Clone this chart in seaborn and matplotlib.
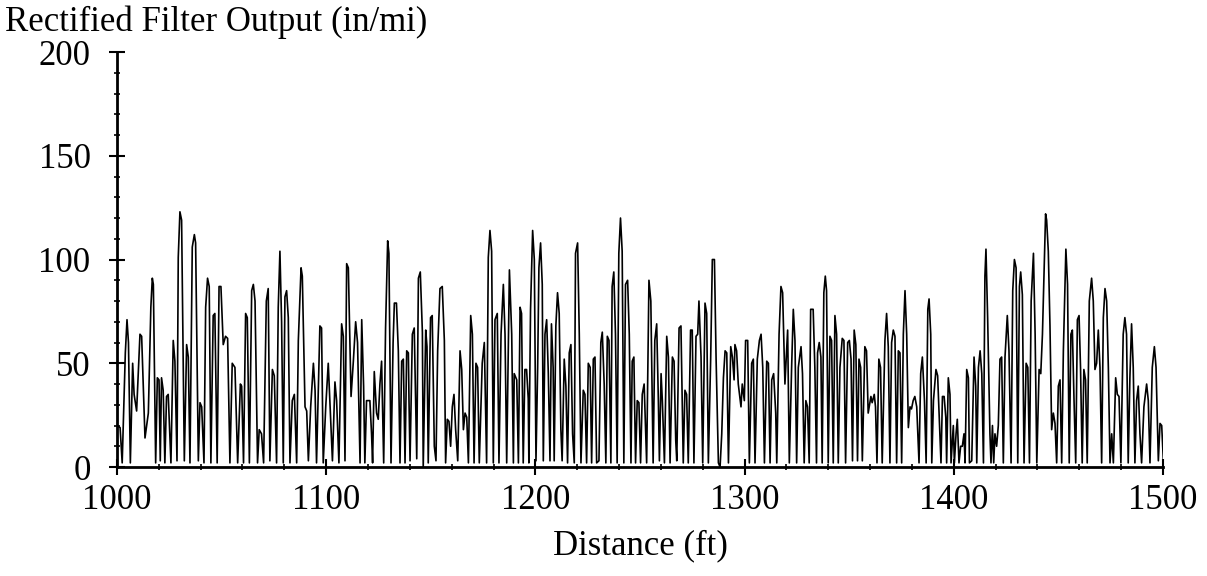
import numpy as np
import pandas as pd
import matplotlib.pyplot as plt
import matplotlib.ticker as mticker
import seaborn as sns

# vertices of the rectified trace (ft, in/mi)
dist = [
    1000.0, 1001.5, 1002.5, 1004.0, 1004.8, 1005.5, 1006.4, 1007.5, 1008.2,
    1009.4, 1011.0, 1011.8, 1013.4, 1015.0, 1016.2, 1016.9, 1017.4, 1018.5, 1019.3,
    1020.1, 1020.7, 1021.3, 1022.1, 1022.9, 1023.7, 1024.5, 1025.8, 1026.9, 1027.7,
    1028.7, 1029.3, 1030.1, 1030.9, 1032.2, 1033.3, 1034.1, 1034.9, 1036.0, 1037.0,
    1037.6, 1038.9, 1039.7, 1040.5, 1041.6, 1042.4, 1043.3, 1044.1, 1044.9, 1046.0,
    1046.8, 1047.9, 1048.8, 1049.7, 1050.8, 1051.9, 1052.9, 1054.0, 1055.1, 1056.4,
    1057.7, 1059.0, 1059.6, 1060.5, 1061.5, 1062.3, 1063.3, 1064.4, 1065.2, 1066.0,
    1067.2, 1068.0, 1069.1, 1070.1,
    1071.4, 1072.3, 1073.1, 1074.3, 1075.2, 1076.3, 1077.1, 1077.9, 1078.7, 1079.5,
    1080.3, 1081.1, 1081.9, 1082.7, 1083.8, 1084.8, 1085.9, 1086.7, 1088.0, 1088.6,
    1089.9, 1090.7, 1091.5, 1092.6, 1093.9, 1094.7, 1095.4, 1097.0, 1097.8, 1098.6,
    1099.8, 1101.0, 1102.1, 1103.0, 1104.2, 1105.0, 1106.1, 1107.4, 1108.2, 1109.0,
    1109.8, 1110.6, 1111.9, 1113.0, 1114.1, 1115.0, 1116.2, 1117.0, 1117.9, 1118.5,
    1119.3, 1120.9, 1121.7, 1122.2, 1123.0, 1124.1, 1124.9, 1125.7, 1126.5, 1127.5,
    1128.4, 1129.4, 1130.0, 1131.0, 1132.0, 1132.6,
    1133.6, 1134.5, 1135.3, 1136.1, 1136.9, 1137.7, 1138.5, 1139.3, 1139.6, 1140.1,
    1141.2, 1142.1, 1143.3, 1144.1, 1145.0, 1146.0, 1146.4, 1147.6, 1148.2, 1148.8,
    1149.9, 1150.7, 1151.7, 1152.5, 1153.3, 1154.4, 1155.5, 1156.5, 1157.1, 1157.9,
    1158.7, 1159.5, 1160.3, 1161.1, 1161.9, 1162.9, 1164.0, 1164.8, 1165.6, 1166.4,
    1167.2, 1168.0, 1169.1, 1169.9, 1170.7, 1171.6, 1172.4, 1173.2, 1174.6, 1175.6,
    1176.7, 1177.5, 1178.3, 1179.1, 1179.9, 1180.7, 1181.8, 1182.6, 1183.6, 1184.7,
    1185.5, 1186.3, 1187.6, 1188.7, 1189.5, 1189.9, 1191.1, 1191.9, 1192.7, 1193.4,
    1194.2,
    1195.0, 1195.8, 1196.6, 1196.9, 1197.7, 1198.7, 1199.5, 1200.3, 1201.1, 1201.7,
    1202.5, 1203.3, 1203.8, 1204.6, 1205.4, 1206.2, 1207.0, 1207.7, 1208.5, 1209.0,
    1209.8, 1210.6, 1211.4, 1212.2, 1212.8, 1213.8, 1214.6, 1215.4, 1216.2, 1217.0,
    1217.8, 1218.6, 1219.2, 1220.2, 1221.0, 1221.8, 1222.9, 1223.7, 1224.5, 1225.3,
    1226.2, 1226.9, 1227.7, 1228.5, 1229.3, 1230.4, 1231.3, 1232.0, 1232.9, 1233.7,
    1234.4, 1235.2, 1236.1, 1236.7, 1237.5, 1238.3, 1239.1, 1239.9, 1240.7, 1241.5,
    1242.3, 1243.1, 1244.1, 1244.9, 1245.7, 1246.3, 1247.1, 1247.9, 1248.7, 1249.5,
    1250.3, 1251.1, 1252.0, 1253.2, 1254.3, 1255.2, 1256.3, 1257.1,
    1258.0, 1258.8, 1259.3, 1260.1, 1260.7, 1261.7, 1262.8, 1263.6, 1264.4, 1265.5,
    1266.3, 1267.1, 1267.6, 1268.7, 1269.6, 1270.7, 1271.5, 1272.3, 1273.1, 1274.2,
    1275.0, 1275.8, 1276.8, 1277.6, 1278.2, 1279.2, 1280.0, 1281.1, 1281.9, 1282.7,
    1283.8, 1284.6, 1285.6, 1286.4, 1287.5, 1288.3, 1289.1, 1289.9, 1290.7, 1291.5,
    1292.3, 1293.4, 1294.2, 1295.0, 1295.4, 1296.2, 1297.0, 1298.3, 1298.9, 1299.9,
    1300.5, 1301.5, 1302.3, 1303.4, 1304.2, 1305.0, 1306.1, 1307.1, 1307.9, 1308.7,
    1309.5, 1310.6, 1311.4, 1312.2, 1313.0, 1313.9, 1314.9, 1315.4, 1316.5, 1317.4,
    1318.2, 1319.3,
    1320.6, 1321.4, 1322.5, 1323.3, 1324.1, 1324.9, 1325.7, 1327.0, 1327.7, 1328.5,
    1329.3, 1330.1, 1330.9, 1331.6, 1332.8, 1333.6, 1334.4, 1334.9, 1335.7, 1336.5,
    1337.1, 1337.9, 1338.6, 1339.2, 1340.0, 1340.8, 1341.6, 1342.4, 1343.2, 1344.0,
    1344.8, 1345.6, 1346.7, 1347.5, 1348.3, 1349.3, 1350.1, 1350.9, 1351.6, 1352.4,
    1353.2, 1354.0, 1354.7, 1355.5, 1356.3, 1357.5, 1358.3, 1359.1, 1360.4, 1361.0,
    1362.0, 1362.6, 1363.3, 1364.2, 1365.0, 1365.8, 1367.1, 1367.9, 1368.7, 1369.5,
    1370.3, 1371.1, 1371.9, 1372.7, 1373.5, 1374.3, 1375.1, 1375.9, 1376.7, 1377.5,
    1378.3, 1379.1, 1379.8, 1380.6, 1381.4,
    1382.3, 1383.4, 1384.2, 1385.0, 1386.0, 1386.8, 1387.6, 1388.2, 1389.0, 1389.5,
    1390.3, 1391.5, 1392.3, 1393.0, 1393.9, 1394.6, 1395.4, 1396.2, 1396.6, 1397.4,
    1398.2, 1398.7, 1399.8, 1400.3, 1401.1, 1401.7, 1402.5, 1403.3, 1404.1, 1404.9,
    1405.4, 1406.2, 1407.0, 1407.5, 1408.6, 1409.7, 1410.5, 1411.0, 1411.8, 1412.6,
    1413.4, 1414.2, 1414.9, 1415.4, 1416.2, 1417.3, 1417.8, 1418.5, 1419.1, 1419.7,
    1420.5, 1421.3, 1422.1, 1422.9, 1423.7, 1424.5, 1425.6, 1426.4, 1427.4, 1428.2,
    1429.0, 1429.8, 1430.6, 1431.4, 1432.0, 1432.8, 1433.6, 1434.6, 1435.4, 1436.2,
    1437.0, 1438.1, 1438.9, 1439.7, 1440.8, 1441.6, 1442.4, 1443.6,
    1443.9, 1444.4, 1445.2, 1446.0, 1446.8, 1447.6, 1448.4, 1449.2, 1450.0, 1450.8,
    1451.6, 1452.4, 1453.6, 1454.4, 1455.2, 1456.0, 1456.7, 1457.5, 1458.3, 1459.1,
    1459.9, 1460.6, 1461.4, 1462.2, 1463.0, 1463.8, 1464.8, 1465.9, 1466.7, 1467.5,
    1468.3, 1469.1, 1469.9, 1470.7, 1471.5, 1472.3, 1473.1, 1473.9, 1474.7, 1475.5,
    1476.3, 1477.4, 1478.2, 1479.0, 1479.9, 1481.0, 1481.8, 1482.6, 1483.4, 1484.2,
    1485.0, 1485.8, 1486.6, 1487.4, 1488.2, 1489.0, 1489.8, 1490.9, 1492.2, 1493.0,
    1493.8, 1494.9, 1495.9, 1496.7, 1497.8, 1498.6, 1499.4, 1500.2,
]

rect_out = [
    20, 19, 2, 55, 71, 60, 2, 50, 35,
    27, 64, 63, 14, 26, 77, 91, 88, 2, 43,
    42, 3, 43, 37, 2, 34, 35, 2, 61, 51,
    3, 101, 123, 119, 3, 59, 53, 2, 106, 112,
    108, 3, 31, 29, 2, 77, 91, 87, 2, 73,
    74, 2, 87, 87, 59, 63, 62, 2, 50, 48,
    2, 40, 39, 2, 74, 72, 2, 85, 88, 80,
    2, 18, 16, 2,
    80, 86, 3, 47, 44, 2, 77, 104, 70, 2,
    82, 85, 72, 2, 32, 35, 2, 61, 96, 92,
    29, 27, 3, 29, 50, 37, 2, 68, 67, 2,
    29, 50, 24, 3, 41, 32, 2, 69, 63, 3,
    98, 96, 34, 51, 70, 60, 2, 71, 39, 2,
    32, 32, 16, 2, 46, 26, 23, 40, 51, 2,
    67, 109, 103, 2, 60, 79,
    79, 56, 2, 51, 52, 2, 56, 55, 32, 3,
    64, 67, 4, 91, 94, 65, 0, 66, 58, 2,
    72, 73, 10, 3, 56, 86, 87, 61, 2, 23,
    22, 10, 29, 35, 18, 3, 56, 47, 18, 26,
    24, 2, 73, 64, 2, 50, 48, 2, 50, 60,
    2, 101, 114, 104, 2, 71, 74, 2, 64, 88,
    64, 2, 95, 64, 2, 45, 42, 2, 77, 74,
    2,
    47, 47, 33, 2, 76, 114, 100, 3, 48, 96,
    108, 88, 3, 64, 71, 45, 3, 69, 48, 3,
    68, 84, 74, 18, 3, 52, 39, 2, 55, 59,
    16, 2, 103, 108, 64, 2, 37, 35, 2, 50,
    48, 2, 52, 53, 2, 3, 60, 65, 40, 2,
    63, 61, 2, 87, 94, 64, 2, 103, 120, 104,
    2, 88, 90, 64, 2, 51, 53, 2, 32, 31,
    2, 35, 40, 2, 90, 80, 2, 61,
    69, 32, 3, 45, 32, 2, 63, 53, 2, 53,
    51, 13, 3, 67, 68, 2, 37, 35, 2, 66,
    66, 2, 63, 64, 80, 53, 2, 79, 74, 2,
    52, 100, 100, 52, 2, 0, 16, 43, 56, 55,
    2, 58, 53, 42, 59, 56, 40, 29, 40, 32,
    61, 61, 2, 50, 52, 2, 52, 61, 64, 48,
    2, 51, 50, 2, 42, 45, 26, 2, 64, 87,
    84, 40,
    66, 2, 48, 76, 61, 2, 48, 58, 45, 2,
    32, 29, 2, 76, 76, 48, 2, 55, 60, 53,
    2, 84, 92, 85, 2, 63, 61, 2, 73, 64,
    2, 48, 62, 61, 2, 60, 61, 52, 3, 66,
    59, 3, 52, 48, 3, 58, 56, 26, 34, 31,
    35, 29, 2, 52, 48, 2, 61, 74, 58, 2,
    60, 66, 63, 2, 56, 55, 2, 64, 85, 64,
    19, 29, 28, 32, 34,
    29, 2, 45, 53, 32, 2, 76, 81, 64, 2,
    32, 47, 44, 26, 2, 34, 34, 24, 2, 43,
    35, 2, 20, 2, 16, 23, 2, 10, 10, 16,
    2, 47, 43, 2, 3, 53, 39, 2, 48, 56,
    45, 2, 92, 105, 72, 16, 2, 20, 2, 16,
    10, 20, 52, 53, 2, 53, 73, 56, 2, 85,
    100, 96, 2, 87, 94, 83, 2, 50, 48, 2,
    80, 103, 64, 2, 47, 45, 64, 112,
    122, 119, 104, 68, 18, 26, 21, 2, 39, 42,
    2, 56, 105, 88, 2, 64, 66, 32, 2, 71,
    73, 48, 2, 47, 42, 2, 80, 91, 80, 47,
    50, 66, 48, 2, 72, 86, 80, 48, 2, 16,
    2, 43, 35, 34, 2, 64, 72, 64, 2, 43,
    69, 48, 2, 32, 39, 16, 2, 29, 40, 32,
    2, 48, 58, 48, 3, 21, 20, 3,
]

x_ticks = [1000, 1100, 1200, 1300, 1400, 1500]
y_ticks = [0, 50, 100, 150, 200]

df = pd.DataFrame({'dist': dist, 'rect_out': rect_out})

sns.set_style('ticks')
plt.rcParams['font.family'] = ['Liberation Serif', 'DejaVu Serif']
plt.rcParams['text.color'] = 'black'
plt.rcParams['axes.labelcolor'] = 'black'

fig = plt.figure(figsize=(12.07, 5.76), dpi=100)
ax = fig.add_axes([0.0969, 0.1892, 0.8666, 0.7205])

sns.lineplot(data=df, x='dist', y='rect_out', ax=ax, color='black',
             lw=1.2, sort=False, estimator=None)

ax.set_xlim(1000, 1500)
ax.set_ylim(0, 200)
ax.set_xticks(x_ticks)
ax.set_yticks(y_ticks)
ax.xaxis.set_minor_locator(mticker.MultipleLocator(20))
ax.yaxis.set_minor_locator(mticker.MultipleLocator(10))

sns.despine(ax=ax)
for side in ['left', 'bottom']:
    ax.spines[side].set_linewidth(2)
    ax.spines[side].set_color('black')

ax.tick_params(which='major', direction='inout', length=12, width=1.5,
               labelsize=25, colors='black')
ax.tick_params(which='minor', direction='inout', length=5, width=1.2, colors='black')
ax.tick_params(axis='y', which='major', pad=13)
ax.tick_params(axis='x', which='major', pad=6)

ax.set_xlabel('Distance (ft)', fontsize=25, labelpad=9)
ax.set_ylabel('')
fig.text(0.004, 0.962, 'Rectified Filter Output (in/mi)', fontsize=25,
         ha='left', va='center')

fig.savefig('out.png', dpi=100)
